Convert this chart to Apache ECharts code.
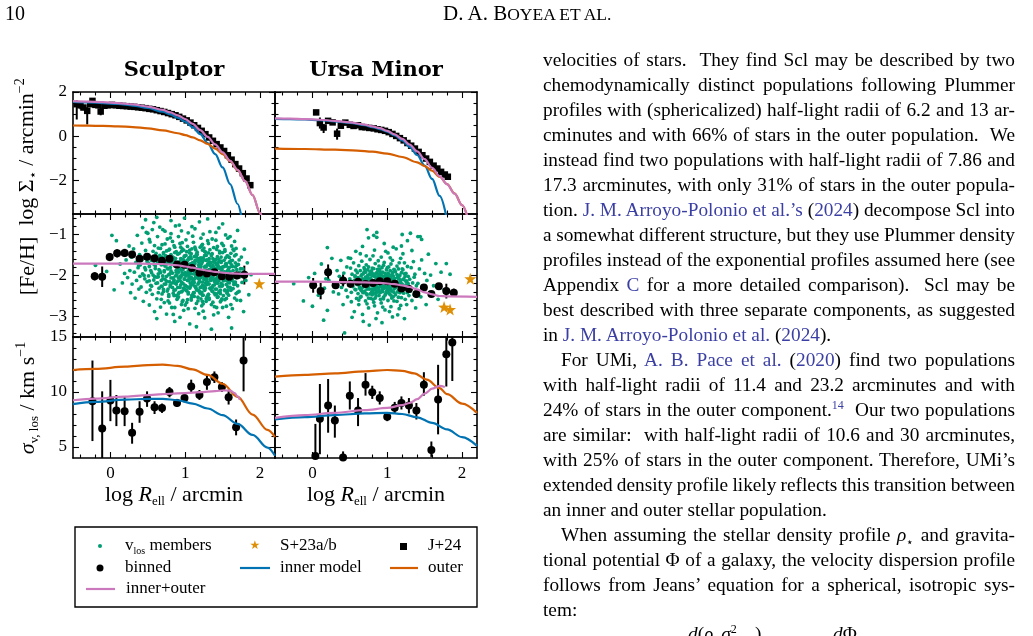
<!DOCTYPE html>
<html>
<head>
<meta charset="utf-8">
<title>Sculptor / Ursa Minor profiles</title>
<script src="https://cdn.jsdelivr.net/npm/echarts@6/dist/echarts.min.js"></script>
<style>
html,body{margin:0;padding:0;background:#fff;overflow:hidden;}
#chart{position:absolute;left:0;top:0;width:1033px;height:636px;}
.pg{position:absolute;z-index:2;font-family:'Liberation Serif','Times New Roman',serif;color:#000;}
#body{left:543px;top:47px;width:472px;font-size:19.3px;line-height:25px;}
#body .l{white-space:nowrap;height:25px;}
#body .j{text-align:justify;text-align-last:justify;word-spacing:-1.5px;}
#body .ind{text-indent:18px;}
.c{color:#3b3fa3;}
sup,sub{line-height:0;font-size:12px;}
.sc{font-size:17.5px;}
</style>
</head>
<body>
<div id="chart"></div>

<div class="pg" style="left:5px;top:1px;font-size:20px;line-height:25px;">10</div>
<div class="pg" style="left:443px;top:1px;font-size:21px;line-height:25px;">D. A. B<span class="sc">OYEA ET AL.</span></div>

<div class="pg" id="body">
<div class="l j">velocities of stars.&nbsp; They find Scl may be described by two</div>
<div class="l j">chemodynamically distinct populations following Plummer</div>
<div class="l j">profiles with (sphericalized) half-light radii of 6.2 and 13 ar-</div>
<div class="l j">cminutes and with 66% of stars in the outer population.&nbsp; We</div>
<div class="l j">instead find two populations with half-light radii of 7.86 and</div>
<div class="l j">17.3 arcminutes, with only 31% of stars in the outer popula-</div>
<div class="l j">tion. <span class="c">J. M. Arroyo-Polonio et al.’s</span> (<span class="c">2024</span>) decompose Scl into</div>
<div class="l j">a somewhat different structure, but they use Plummer density</div>
<div class="l j">profiles instead of the exponential profiles assumed here (see</div>
<div class="l j">Appendix <span class="c">C</span> for a more detailed comparison).&nbsp; Scl may be</div>
<div class="l j">best described with three separate components, as suggested</div>
<div class="l">in <span class="c">J. M. Arroyo-Polonio et al.</span> (<span class="c">2024</span>).</div>
<div class="l j ind">For UMi, <span class="c">A. B. Pace et al.</span> (<span class="c">2020</span>) find two populations</div>
<div class="l j">with half-light radii of 11.4 and 23.2 arcminutes and with</div>
<div class="l j">24% of stars in the outer component.<sup class="c">14</sup>&nbsp; Our two populations</div>
<div class="l j">are similar:&nbsp; with half-light radii of 10.6 and 30 arcminutes,</div>
<div class="l j">with 25% of stars in the outer component. Therefore, UMi’s</div>
<div class="l j">extended density profile likely reflects this transition between</div>
<div class="l">an inner and outer stellar population.</div>
<div class="l j ind">When assuming the stellar density profile <i>ρ</i><sub>⋆</sub> and gravita-</div>
<div class="l j">tional potential Φ of a galaxy, the velocity dispersion profile</div>
<div class="l j">follows from Jeans’ equation for a spherical, isotropic sys-</div>
<div class="l">tem:</div>
</div>
<div class="pg" style="left:688px;top:621px;font-size:19.3px;line-height:25px;white-space:nowrap;"><i>d</i>(<i>ρ</i><sub>⋆</sub><i>σ</i><sup>2</sup><sub style="margin-left:-7px">v, los</sub>)</div>
<div class="pg" style="left:833px;top:621px;font-size:19.3px;line-height:25px;"><i>d</i>Φ</div>

<script type="text/javascript">
// ---------- tick positions ----------
var xMajor = [0, 1, 2];
var xMinor = [-0.4, -0.2, 0.2, 0.4, 0.6, 0.8, 1.2, 1.4, 1.6, 1.8];
var denMajor = [-2, 0, 2];
var denMinor = [-3, -2.5, -1.5, -1, -0.5, 0.5, 1, 1.5];
var fehMajor = [-3, -2, -1];
var fehMinor = [-3.4, -3.2, -2.8, -2.6, -2.4, -2.2, -1.8, -1.6, -1.4, -1.2, -0.8, -0.6];
var sigMajor = [5, 10, 15];
var sigMinor = [6, 7, 8, 9, 11, 12, 13, 14];

// ---------- surface density (log Sigma) ----------
var sclDens = [[-0.45,1.45],[-0.40,1.40],[-0.36,1.30],[-0.31,1.15],[-0.27,1.45],[-0.24,1.60],[-0.20,1.42],[-0.16,1.40],[-0.13,1.12],[-0.08,1.38],[-0.03,1.40],[0.02,1.42],[0.07,1.40],[0.12,1.38],[0.17,1.37],[0.22,1.36],[0.27,1.34],[0.32,1.33],[0.37,1.31],[0.42,1.29],[0.47,1.27],[0.52,1.24],[0.57,1.22],[0.62,1.18],[0.67,1.14],[0.72,1.10],[0.77,1.05],[0.82,1.00],[0.87,0.95],[0.92,0.88],[0.97,0.80],[1.02,0.72],[1.07,0.62],[1.12,0.50],[1.17,0.38],[1.22,0.25],[1.27,0.10],[1.32,-0.05],[1.37,-0.20],[1.42,-0.35],[1.47,-0.50],[1.52,-0.66],[1.57,-0.85],[1.62,-1.05],[1.67,-1.25],[1.72,-1.45],[1.77,-1.66],[1.82,-1.90],[1.87,-2.20]];
var sclDensErr = [[-0.45,0.76,1.62],[-0.40,1.22,1.55],[-0.31,0.54,1.32],[-0.13,0.95,1.28]];
var umiDens = [[0.05,1.08],[0.10,0.60],[0.15,0.40],[0.21,0.70],[0.27,0.63],[0.33,0.12],[0.38,0.48],[0.44,0.62],[0.50,0.52],[0.55,0.47],[0.61,0.50],[0.66,0.42],[0.71,0.41],[0.76,0.38],[0.82,0.36],[0.87,0.32],[0.92,0.29],[0.97,0.25],[1.02,0.19],[1.07,0.11],[1.12,0.02],[1.17,-0.08],[1.22,-0.18],[1.27,-0.30],[1.32,-0.42],[1.37,-0.55],[1.42,-0.70],[1.47,-0.85],[1.52,-1.00],[1.57,-1.15],[1.62,-1.32],[1.67,-1.45],[1.72,-1.60],[1.77,-1.72],[1.81,-1.82]];
var umiDensErr = [[0.05,0.98,1.18],[0.10,0.35,0.85],[0.15,0.15,0.55],[0.33,-0.15,0.35]];

var sclDenInner = [[-0.5,1.55],[-0.3,1.53],[-0.1,1.50],[0.1,1.46],[0.3,1.39],[0.5,1.28],[0.7,1.11],[0.8,0.99],[0.9,0.84],[1.0,0.66],[1.1,0.42],[1.2,0.10],[1.3,-0.30],[1.4,-0.80],[1.5,-1.40],[1.6,-2.15],[1.7,-3.05],[1.75,-3.6]];
var sclDenOuter = [[-0.5,0.49],[-0.3,0.48],[-0.1,0.47],[0.1,0.45],[0.3,0.42],[0.5,0.36],[0.7,0.27],[0.9,0.14],[1.0,0.06],[1.1,-0.05],[1.2,-0.18],[1.3,-0.34],[1.4,-0.55],[1.5,-0.80],[1.6,-1.12],[1.7,-1.52],[1.8,-2.02],[1.9,-2.65],[2.0,-3.45],[2.02,-3.6]];
var sclDenTotal = [[-0.5,1.59],[-0.3,1.57],[-0.1,1.54],[0.1,1.50],[0.3,1.44],[0.5,1.34],[0.7,1.19],[0.8,1.08],[0.9,0.95],[1.0,0.78],[1.1,0.56],[1.2,0.28],[1.3,-0.02],[1.4,-0.36],[1.5,-0.72],[1.6,-1.10],[1.7,-1.51],[1.8,-2.02],[1.9,-2.65],[2.0,-3.45],[2.02,-3.6]];
var umiDenInner = [[-0.5,0.79],[-0.3,0.78],[-0.1,0.76],[0.1,0.73],[0.3,0.68],[0.5,0.61],[0.7,0.50],[0.8,0.42],[0.9,0.33],[1.0,0.21],[1.1,0.04],[1.2,-0.18],[1.3,-0.47],[1.4,-0.84],[1.5,-1.32],[1.6,-1.92],[1.7,-2.68],[1.79,-3.6]];
var umiDenOuter = [[-0.5,-0.55],[-0.1,-0.57],[0.3,-0.60],[0.6,-0.64],[0.8,-0.69],[1.0,-0.78],[1.2,-0.93],[1.4,-1.17],[1.5,-1.34],[1.6,-1.55],[1.7,-1.82],[1.8,-2.15],[1.9,-2.57],[2.0,-3.1],[2.07,-3.6]];
var umiDenTotal = [[-0.5,0.81],[-0.3,0.80],[-0.1,0.78],[0.1,0.75],[0.3,0.70],[0.5,0.63],[0.7,0.53],[0.8,0.45],[0.9,0.37],[1.0,0.25],[1.1,0.09],[1.2,-0.11],[1.3,-0.37],[1.4,-0.68],[1.5,-1.03],[1.6,-1.42],[1.7,-1.79],[1.8,-2.16],[1.9,-2.58],[2.0,-3.1],[2.07,-3.6]];

// ---------- metallicity: individual members ----------
var sclMembers = [[-0.2,-1.75],[-0.05,-1.9],[0.02,-1.02],[0.05,-2.35],[0.08,-1.15],
[0.13,-1.72],[0.16,-2.18],[0.18,-1.45],[0.19,-1.95],
[0.21,-1.62],[0.23,-2.05],[0.25,-1.28],[0.26,-1.88],[0.27,-2.42],[0.28,-1.55],[0.29,-2.21],
[0.31,-1.35],[0.32,-1.92],[0.33,-2.55],[0.34,-1.68],[0.35,-2.12],[0.36,-1.02],[0.37,-1.81],[0.38,-2.33],[0.39,-1.49],[0.395,-2.02],
[0.40,-1.74],[0.41,-2.28],[0.42,-1.21],[0.43,-1.96],[0.44,-2.63],[0.45,-1.57],[0.46,-2.08],[0.47,-1.39],[0.47,-1.86],[0.48,-2.41],[0.49,-1.66],[0.49,-2.15],[0.48,-0.95],
[0.50,-1.52],[0.51,-2.01],[0.52,-2.72],[0.52,-1.78],[0.53,-1.18],[0.54,-2.24],[0.55,-1.63],[0.55,-1.93],[0.56,-2.46],[0.57,-1.41],[0.58,-2.11],[0.58,-1.72],[0.59,-2.88],[0.59,-1.27],[0.56,-0.88],[0.53,-2.35],[0.57,-1.99],
[0.60,-1.83],[0.61,-2.19],[0.61,-1.46],[0.62,-2.57],[0.63,-1.69],[0.63,-1.05],[0.64,-2.03],[0.65,-1.58],[0.65,-2.31],[0.66,-1.88],[0.67,-2.77],[0.67,-1.34],[0.68,-2.12],[0.68,-1.74],[0.69,-2.45],[0.69,-1.55],[0.62,-3.05],[0.64,-1.96],[0.66,-0.82],[0.68,-2.26],
[0.70,-1.62],[0.70,-2.08],[0.71,-2.39],[0.71,-1.44],[0.72,-1.91],[0.72,-2.66],[0.73,-1.23],[0.73,-1.77],[0.74,-2.21],[0.74,-1.53],[0.75,-2.02],[0.75,-2.94],[0.76,-1.68],[0.76,-1.11],[0.77,-2.33],[0.77,-1.84],[0.78,-2.51],[0.78,-1.38],[0.79,-1.97],[0.79,-2.15],[0.73,-0.92],[0.75,-1.72],[0.77,-2.62],[0.79,-1.58],
[0.80,-1.81],[0.80,-2.27],[0.81,-1.49],[0.81,-2.06],[0.82,-2.78],[0.82,-1.65],[0.83,-1.17],[0.83,-1.94],[0.84,-2.43],[0.84,-1.56],[0.85,-2.13],[0.85,-1.73],[0.86,-3.12],[0.86,-1.31],[0.87,-2.01],[0.87,-2.35],[0.88,-1.87],[0.88,-1.42],[0.89,-2.58],[0.89,-1.99],[0.81,-0.98],[0.83,-2.18],[0.85,-2.49],[0.86,-1.62],[0.87,-0.79],[0.88,-2.21],[0.89,-1.76],[0.84,-2.95],
[0.90,-1.68],[0.90,-2.14],[0.91,-1.92],[0.91,-2.52],[0.92,-1.46],[0.92,-1.81],[0.93,-2.29],[0.93,-1.22],[0.94,-2.04],[0.94,-1.59],[0.95,-2.71],[0.95,-1.87],[0.96,-2.38],[0.96,-1.35],[0.97,-1.97],[0.97,-2.19],[0.98,-1.74],[0.98,-2.85],[0.99,-1.53],[0.99,-2.09],[0.91,-1.05],[0.92,-2.41],[0.93,-1.71],[0.94,-2.23],[0.95,-1.41],[0.96,-1.99],[0.97,-2.61],[0.98,-1.62],[0.99,-2.33],[0.93,-3.02],[0.95,-0.91],[0.97,-1.86],
[1.00,-1.78],[1.00,-2.24],[1.01,-1.51],[1.01,-2.01],[1.02,-2.66],[1.02,-1.66],[1.03,-1.29],[1.03,-2.12],[1.04,-1.89],[1.04,-2.45],[1.05,-1.57],[1.05,-2.06],[1.06,-1.38],[1.06,-2.31],[1.07,-1.95],[1.07,-1.72],[1.08,-2.55],[1.08,-1.47],[1.09,-2.18],[1.09,-1.84],[1.01,-1.13],[1.02,-2.37],[1.03,-1.63],[1.04,-2.81],[1.05,-1.99],[1.06,-1.76],[1.07,-2.27],[1.08,-1.59],[1.09,-2.49],[1.04,-0.96],[1.06,-3.18],[1.08,-2.08],[1.00,-1.93],[1.03,-2.59],
[1.10,-1.69],[1.10,-2.15],[1.11,-1.96],[1.11,-2.42],[1.12,-1.54],[1.12,-1.82],[1.13,-2.26],[1.13,-1.31],[1.14,-2.03],[1.14,-1.64],[1.15,-2.68],[1.15,-1.88],[1.16,-2.35],[1.16,-1.43],[1.17,-1.99],[1.17,-2.21],[1.18,-1.75],[1.18,-2.93],[1.19,-1.58],[1.19,-2.11],[1.11,-1.19],[1.12,-2.51],[1.13,-1.71],[1.14,-2.29],[1.15,-1.48],[1.16,-2.04],[1.17,-2.62],[1.18,-1.61],[1.19,-2.39],[1.13,-0.86],[1.15,-3.25],[1.17,-1.83],[1.10,-2.47],[1.12,-2.09],[1.14,-1.37],[1.18,-2.18],
[1.20,-1.83],[1.20,-2.29],[1.21,-1.57],[1.21,-2.05],[1.22,-2.74],[1.22,-1.71],[1.23,-1.24],[1.23,-2.16],[1.24,-1.93],[1.24,-2.48],[1.25,-1.62],[1.25,-2.09],[1.26,-1.41],[1.26,-2.36],[1.27,-1.98],[1.27,-1.77],[1.28,-2.57],[1.28,-1.51],[1.29,-2.22],[1.29,-1.88],[1.21,-1.09],[1.22,-2.41],[1.23,-1.66],[1.24,-2.87],[1.25,-2.02],[1.26,-1.79],[1.27,-2.31],[1.28,-1.63],[1.29,-2.52],[1.24,-0.99],[1.26,-3.03],[1.28,-2.12],[1.20,-1.96],[1.23,-2.63],[1.25,-1.33],[1.27,-2.19],
[1.30,-1.74],[1.30,-2.19],[1.31,-2.01],[1.31,-2.46],[1.32,-1.59],[1.32,-1.86],[1.33,-2.31],[1.33,-1.37],[1.34,-2.07],[1.34,-1.68],[1.35,-2.71],[1.35,-1.92],[1.36,-2.38],[1.36,-1.47],[1.37,-2.03],[1.37,-2.25],[1.38,-1.79],[1.38,-2.96],[1.39,-1.62],[1.39,-2.14],[1.31,-1.22],[1.32,-2.55],[1.33,-1.75],[1.34,-2.33],[1.35,-1.52],[1.36,-2.09],[1.37,-2.65],[1.38,-1.66],[1.39,-2.43],[1.33,-0.93],[1.35,-3.31],[1.37,-1.88],[1.30,-2.51],[1.34,-2.12],
[1.40,-1.87],[1.40,-2.33],[1.41,-1.61],[1.41,-2.09],[1.42,-2.78],[1.42,-1.74],[1.43,-1.29],[1.43,-2.19],[1.44,-1.96],[1.44,-2.52],[1.45,-1.66],[1.45,-2.13],[1.46,-1.45],[1.46,-2.41],[1.47,-2.02],[1.47,-1.81],[1.48,-2.61],[1.48,-1.55],[1.49,-2.26],[1.49,-1.92],[1.41,-1.14],[1.42,-2.45],[1.43,-1.71],[1.44,-2.91],[1.45,-2.06],[1.46,-1.83],[1.47,-2.36],[1.48,-1.68],[1.49,-2.57],[1.45,-0.84],
[1.50,-1.79],[1.50,-2.23],[1.51,-2.04],[1.51,-2.49],[1.52,-1.63],[1.52,-1.91],[1.53,-2.35],[1.53,-1.41],[1.54,-2.11],[1.54,-1.72],[1.55,-2.75],[1.55,-1.96],[1.56,-2.42],[1.56,-1.52],[1.57,-2.07],[1.57,-2.28],[1.58,-1.84],[1.58,-3.02],[1.59,-1.67],[1.59,-2.18],[1.51,-1.27],[1.53,-2.59],[1.55,-1.77],[1.57,-2.37],[1.59,-1.56],[1.54,-1.01],
[1.60,-1.91],[1.61,-2.36],[1.61,-1.64],[1.62,-2.12],[1.63,-2.81],[1.63,-1.78],[1.64,-1.36],[1.65,-2.22],[1.65,-1.99],[1.66,-2.55],[1.67,-1.69],[1.67,-2.16],[1.68,-1.49],[1.68,-2.44],[1.69,-2.05],[1.69,-1.86],[1.62,-3.28],[1.66,-1.17],
[1.70,-2.04],[1.71,-1.73],[1.72,-2.39],[1.73,-1.92],[1.74,-2.61],[1.75,-1.55],[1.76,-2.17],[1.77,-1.84],[1.78,-2.88],[1.79,-1.36],
[1.81,-2.12],[1.83,-1.69],[1.85,-2.47],[1.88,-1.98],
[0.43,-0.83],[0.47,-0.64],[0.5,-0.97],[0.58,-0.71],[0.62,-0.58],[0.7,-0.88],[0.81,-0.66],[0.92,-0.77],[0.99,-0.6],[1.09,-0.81],[1.19,-0.69],[1.3,-0.62],[1.41,-0.95],[1.5,-0.74],[1.6,-1.05],[1.7,-0.9]];
// dense core of the Sculptor cloud
var sclCore = [[0.64,-1.33],[0.71,-1.47],[0.79,-1.36],[0.86,-1.44],[0.94,-1.31],[1.02,-1.42],[1.09,-1.35],[1.16,-1.49],[1.23,-1.38],[1.31,-1.45],[1.38,-1.32],[1.46,-1.41],[1.53,-1.37],[1.61,-1.46],[1.68,-1.34],[0.75,-1.40],[0.9,-1.48],[1.06,-1.45],[1.2,-1.31],[1.35,-1.49],[1.5,-1.44],[1.65,-1.39],[0.98,-1.38],[1.27,-1.43],[1.42,-1.36],
[0.61,-1.56],[0.68,-1.64],[0.74,-1.52],[0.8,-1.68],[0.87,-1.58],[0.93,-1.66],[0.99,-1.53],[1.04,-1.61],[1.1,-1.69],[1.15,-1.55],[1.21,-1.63],[1.26,-1.51],[1.32,-1.67],[1.37,-1.59],[1.43,-1.54],[1.48,-1.65],[1.54,-1.57],[1.6,-1.69],[1.66,-1.52],[1.72,-1.62],[0.66,-1.51],[0.77,-1.61],[0.89,-1.69],[0.96,-1.6],[1.07,-1.54],[1.13,-1.64],[1.24,-1.57],[1.29,-1.62],[1.4,-1.68],[1.45,-1.6],[1.57,-1.53],[1.63,-1.63],[1.18,-1.67],[1.01,-1.68],[0.83,-1.55],
[0.6,-1.77],[0.65,-1.86],[0.7,-1.73],[0.76,-1.82],[0.81,-1.89],[0.86,-1.76],[0.92,-1.84],[0.97,-1.71],[1.02,-1.8],[1.07,-1.88],[1.11,-1.74],[1.16,-1.83],[1.21,-1.78],[1.25,-1.87],[1.3,-1.72],[1.35,-1.81],[1.39,-1.89],[1.44,-1.76],[1.49,-1.85],[1.55,-1.71],[1.59,-1.8],[1.64,-1.88],[1.69,-1.75],[1.74,-1.83],[0.72,-1.88],[0.83,-1.73],[0.95,-1.79],[1.04,-1.73],[1.14,-1.9],[1.19,-1.72],[1.28,-1.79],[1.33,-1.88],[1.42,-1.82],[1.52,-1.78],[1.57,-1.87],[1.67,-1.79],[0.89,-1.87],[1.09,-1.81],[1.37,-1.74],[1.62,-1.74],
[0.62,-2.04],[0.67,-1.93],[0.73,-2.09],[0.78,-1.98],[0.84,-2.06],[0.88,-1.92],[0.94,-2.01],[0.99,-2.08],[1.03,-1.95],[1.08,-2.04],[1.13,-1.91],[1.17,-2.07],[1.22,-1.99],[1.26,-2.05],[1.31,-1.93],[1.36,-2.02],[1.4,-2.09],[1.45,-1.96],[1.5,-2.05],[1.54,-1.92],[1.58,-2.01],[1.63,-2.08],[1.68,-1.95],[1.73,-2.03],[0.7,-2.01],[0.81,-1.93],[0.91,-2.06],[1.01,-2.0],[1.11,-2.09],[1.2,-1.94],[1.29,-2.09],[1.34,-1.97],[1.43,-2.03],[1.48,-1.91],[1.56,-2.07],[1.66,-2.02],[0.96,-1.94],[1.15,-2.0],[1.24,-1.92],[1.38,-1.95],
[0.63,-2.18],[0.69,-2.27],[0.75,-2.14],[0.8,-2.23],[0.85,-2.11],[0.9,-2.29],[0.95,-2.16],[1.0,-2.25],[1.05,-2.13],[1.1,-2.22],[1.14,-2.28],[1.19,-2.15],[1.23,-2.24],[1.28,-2.12],[1.32,-2.21],[1.36,-2.29],[1.41,-2.17],[1.46,-2.26],[1.51,-2.13],[1.55,-2.22],[1.6,-2.29],[1.65,-2.16],[1.7,-2.25],[0.72,-2.21],[0.83,-2.29],[0.93,-2.12],[1.03,-2.28],[1.12,-2.17],[1.21,-2.29],[1.3,-2.16],[1.39,-2.23],[1.48,-2.19],[1.57,-2.14],[1.67,-2.21],[0.87,-2.19],[1.07,-2.19],[1.26,-2.27],[1.44,-2.12],
[0.64,-2.42],[0.71,-2.34],[0.78,-2.47],[0.85,-2.36],[0.91,-2.44],[0.98,-2.31],[1.04,-2.41],[1.09,-2.49],[1.15,-2.35],[1.2,-2.43],[1.25,-2.32],[1.31,-2.46],[1.36,-2.38],[1.42,-2.33],[1.47,-2.44],[1.53,-2.37],[1.58,-2.48],[1.64,-2.32],[1.7,-2.41],[0.76,-2.38],[0.88,-2.49],[1.01,-2.36],[1.12,-2.42],[1.23,-2.48],[1.34,-2.31],[1.45,-2.4],[1.56,-2.43],[0.95,-2.4],[1.18,-2.37],[1.4,-2.47],
[0.68,-2.58],[0.79,-2.67],[0.9,-2.55],[1.0,-2.72],[1.08,-2.6],[1.17,-2.53],[1.24,-2.69],[1.32,-2.58],[1.39,-2.76],[1.47,-2.64],[1.55,-2.56],[1.61,-2.71],[1.69,-2.6],[0.86,-2.78],[1.13,-2.8],[1.28,-2.63],[1.43,-2.53],[1.5,-2.78],[0.96,-2.64],[1.21,-2.57],
[0.52,-1.12],[0.69,-1.25],[0.8,-1.08],[0.96,-1.2],[1.1,-1.04],[1.22,-1.27],[1.36,-1.11],[1.49,-1.22],[1.62,-1.28],[0.85,-1.27],[1.3,-1.15],[1.57,-1.09],
[0.42,-1.62],[0.46,-1.81],[0.51,-1.7],[0.54,-1.88],[0.57,-1.55],[0.45,-2.0],[0.52,-2.13],[0.38,-1.75],[0.55,-2.26],[0.59,-2.03]];

var umiMembers = [[-0.25,-2.2],[-0.12,-2.62],[-0.05,-2.05],[0.03,-1.95],[0.08,-2.48],[0.12,-1.72],[0.16,-2.31],[0.2,-2.85],[0.22,-2.12],[0.26,-1.58],[0.28,-2.4],[0.18,-2.08],[0.0,-2.75],[0.15,-3.09],[0.2,-1.32],[0.43,-3.4],
[0.31,-2.18],[0.33,-1.88],[0.35,-2.45],[0.36,-2.02],[0.38,-1.63],[0.39,-2.29],[0.41,-2.71],[0.42,-1.94],[0.44,-2.13],[0.46,-1.79],[0.47,-2.52],[0.48,-1.57],[0.49,-2.24],[0.45,-2.36],
[0.50,-2.08],[0.51,-1.82],[0.52,-2.41],[0.52,-2.64],[0.53,-1.97],[0.54,-2.27],[0.55,-1.69],[0.55,-2.15],[0.56,-2.88],[0.57,-2.01],[0.57,-2.34],[0.58,-1.87],[0.58,-1.41],[0.59,-2.21],[0.59,-2.56],[0.53,-3.02],[0.56,-2.12],[0.51,-1.58],
[0.60,-2.17],[0.60,-1.93],[0.61,-2.44],[0.61,-2.05],[0.62,-1.76],[0.62,-2.71],[0.63,-2.28],[0.63,-2.12],[0.64,-1.88],[0.64,-2.53],[0.65,-2.01],[0.65,-2.36],[0.66,-1.65],[0.66,-2.19],[0.67,-2.95],[0.67,-2.08],[0.68,-1.96],[0.68,-2.42],[0.69,-2.24],[0.69,-1.81],[0.62,-2.6],[0.64,-1.47],[0.66,-2.31],[0.68,-3.12],[0.61,-2.14],[0.67,-1.29],
[0.70,-2.11],[0.70,-2.38],[0.71,-1.92],[0.71,-2.62],[0.72,-2.22],[0.72,-1.74],[0.73,-2.04],[0.73,-2.47],[0.74,-1.86],[0.74,-2.29],[0.75,-2.15],[0.75,-2.79],[0.76,-1.98],[0.76,-2.33],[0.77,-1.61],[0.77,-2.19],[0.78,-2.56],[0.78,-2.07],[0.79,-1.89],[0.79,-2.41],[0.71,-2.26],[0.72,-1.52],[0.73,-2.69],[0.74,-2.09],[0.75,-1.79],[0.76,-3.21],[0.77,-2.45],[0.78,-1.98],[0.79,-2.17],[0.75,-1.08],
[0.80,-2.14],[0.80,-1.95],[0.81,-2.36],[0.81,-2.58],[0.82,-1.83],[0.82,-2.21],[0.83,-2.02],[0.83,-2.74],[0.84,-2.29],[0.84,-1.71],[0.85,-2.12],[0.85,-2.43],[0.86,-1.93],[0.86,-2.26],[0.87,-2.05],[0.87,-2.91],[0.88,-1.64],[0.88,-2.18],[0.89,-2.49],[0.89,-2.01],[0.81,-1.52],[0.82,-2.65],[0.83,-2.24],[0.84,-1.96],[0.85,-3.05],[0.86,-2.39],[0.87,-1.85],[0.88,-2.31],[0.89,-1.77],[0.84,-2.55],[0.86,-0.95],[0.88,-2.09],[0.8,-2.47],[0.83,-1.38],
[0.90,-2.19],[0.90,-2.42],[0.91,-1.97],[0.91,-2.27],[0.92,-2.08],[0.92,-2.67],[0.93,-1.81],[0.93,-2.35],[0.94,-2.16],[0.94,-1.92],[0.95,-2.53],[0.95,-2.03],[0.96,-2.31],[0.96,-1.68],[0.97,-2.22],[0.97,-2.84],[0.98,-1.99],[0.98,-2.44],[0.99,-2.11],[0.99,-1.86],[0.91,-2.58],[0.92,-1.55],[0.93,-3.15],[0.94,-2.39],[0.95,-1.75],[0.96,-2.06],[0.97,-2.48],[0.98,-1.41],[0.99,-2.29],[0.94,-2.77],[0.96,-1.22],[0.98,-2.18],[0.9,-1.9],[0.95,-2.25],
[1.00,-2.13],[1.00,-2.36],[1.01,-1.94],[1.01,-2.61],[1.02,-2.24],[1.02,-1.79],[1.03,-2.05],[1.03,-2.45],[1.04,-1.88],[1.04,-2.29],[1.05,-2.17],[1.05,-2.76],[1.06,-1.99],[1.06,-2.38],[1.07,-1.63],[1.07,-2.21],[1.08,-2.52],[1.08,-2.01],[1.09,-1.85],[1.09,-2.33],[1.01,-1.45],[1.03,-2.88],[1.05,-1.72],[1.06,-2.11],[1.07,-3.01],[1.08,-1.31],[1.09,-2.62],[1.02,-2.42],[1.04,-1.57],[1.06,-2.55],
[1.10,-2.16],[1.11,-1.91],[1.11,-2.47],[1.12,-2.26],[1.13,-1.77],[1.13,-2.63],[1.14,-2.04],[1.15,-2.37],[1.15,-1.84],[1.16,-2.19],[1.16,-2.81],[1.17,-1.99],[1.17,-2.31],[1.18,-1.58],[1.18,-2.11],[1.19,-2.54],[1.19,-1.93],[1.12,-1.35],[1.14,-2.96],[1.16,-1.69],[1.17,-2.42],[1.18,-2.73],[1.13,-2.15],[1.19,-1.28],
[1.20,-2.21],[1.21,-1.86],[1.22,-2.43],[1.22,-2.08],[1.23,-1.69],[1.24,-2.58],[1.24,-2.29],[1.25,-1.95],[1.26,-2.71],[1.26,-2.14],[1.27,-1.78],[1.28,-2.36],[1.28,-2.02],[1.29,-2.49],[1.21,-1.47],[1.23,-3.05],[1.25,-2.23],[1.27,-1.15],
[1.30,-2.09],[1.31,-2.38],[1.32,-1.81],[1.33,-2.61],[1.34,-2.18],[1.35,-1.66],[1.36,-2.47],[1.37,-1.97],[1.38,-2.79],[1.39,-2.25],[1.33,-1.39],[1.36,-2.04],[1.31,-0.97],
[1.41,-2.19],[1.43,-1.84],[1.45,-2.52],[1.46,-1.62],[1.48,-2.33],[1.5,-1.95],[1.52,-2.71],[1.53,-2.12],[1.55,-1.48],[1.57,-2.41],[1.58,-1.99],[1.44,-1.05],
[1.62,-2.25],[1.65,-1.71],[1.68,-2.58],[1.72,-1.92],[1.76,-2.35],[1.79,-1.71],[1.84,-1.97],
[0.73,-0.88],[0.82,-1.02],[0.86,-1.07],[1.41,-1.05],[1.46,-1.12],[1.2,-1.0]];
// dense core of the Ursa Minor cloud
var umiCore = [[0.57,-2.03],[0.63,-2.31],[0.68,-2.11],[0.72,-2.44],[0.77,-1.91],[0.81,-2.25],[0.85,-2.05],[0.89,-2.37],[0.93,-2.13],[0.97,-1.95],[1.01,-2.28],[1.05,-2.06],[1.09,-2.41],[1.13,-1.98],[1.17,-2.23],[1.22,-2.1],[1.26,-2.33],[0.6,-2.22],[0.66,-1.98],[0.7,-2.27],[0.74,-2.0],[0.79,-2.33],[0.83,-2.13],[0.87,-1.97],[0.91,-2.24],[0.95,-2.09],[0.99,-2.39],[1.03,-2.19],[1.07,-1.93],[1.11,-2.3],[1.15,-2.08],[1.2,-2.36],[1.24,-2.02],[1.28,-2.2],
[0.62,-2.1],[0.67,-2.4],[0.71,-2.04],[0.76,-2.24],[0.8,-2.0],[0.84,-2.35],[0.88,-2.12],[0.92,-1.99],[0.96,-2.2],[1.0,-2.04],[1.04,-2.34],[1.08,-2.12],[1.12,-2.22],[1.16,-2.02],[1.21,-2.26],[1.25,-2.14],
[0.58,-2.35],[0.64,-2.16],[0.69,-1.92],[0.73,-2.33],[0.78,-2.12],[0.82,-2.43],[0.86,-2.21],[0.9,-2.07],[0.94,-2.32],[0.98,-2.15],[1.02,-1.97],[1.06,-2.26],[1.1,-2.07],[1.14,-2.4],[1.18,-2.17],[1.23,-1.96],[1.27,-2.42],
[0.65,-2.51],[0.75,-2.55],[0.85,-2.5],[0.95,-2.57],[1.05,-2.48],[1.15,-2.53],[0.7,-1.85],[0.8,-1.82],[0.9,-1.86],[1.0,-1.81],[1.1,-1.87],[1.2,-1.84],
[0.83,-2.29],[0.87,-2.16],[0.91,-2.41],[0.95,-2.17],[0.99,-2.02],[1.03,-2.31],[0.79,-2.19],[0.75,-2.08],[0.71,-2.17],[0.93,-2.27],[0.97,-2.12],[1.01,-2.17],[0.85,-2.27],[0.89,-2.03],[1.07,-2.16]];

// binned: x, mean, lower, upper
var sclFehBinned = [[-0.21,-2.02,-2.12,-1.92],[-0.11,-2.03,-2.28,-1.78],[-0.01,-1.55,-1.65,-1.45],[0.09,-1.46,-1.56,-1.36],[0.19,-1.45,-1.55,-1.35],[0.29,-1.49,-1.58,-1.40],[0.39,-1.59,-1.66,-1.52],[0.49,-1.54,-1.59,-1.49],[0.59,-1.58,-1.62,-1.54],[0.69,-1.64,-1.68,-1.60],[0.79,-1.59,-1.63,-1.55],[0.89,-1.73,-1.77,-1.69],[0.99,-1.74,-1.77,-1.71],[1.09,-1.82,-1.85,-1.79],[1.19,-1.93,-1.96,-1.90],[1.29,-1.95,-1.98,-1.92],[1.39,-1.92,-1.95,-1.89],[1.49,-2.02,-2.05,-1.99],[1.59,-2.03,-2.07,-1.99],[1.69,-2.00,-2.05,-1.95],[1.79,-1.98,-2.22,-1.76]];
var umiFehBinned = [[0.01,-2.24,-2.42,-2.06],[0.11,-2.38,-2.58,-2.18],[0.21,-1.92,-2.11,-1.73],[0.31,-2.24,-2.32,-2.16],[0.41,-2.12,-2.27,-1.97],[0.51,-2.20,-2.30,-2.10],[0.61,-2.15,-2.22,-2.08],[0.71,-2.21,-2.27,-2.15],[0.81,-2.18,-2.23,-2.13],[0.90,-2.14,-2.19,-2.09],[1.00,-2.14,-2.19,-2.09],[1.10,-2.20,-2.25,-2.15],[1.19,-2.32,-2.37,-2.27],[1.29,-2.33,-2.38,-2.28],[1.39,-2.45,-2.55,-2.35],[1.49,-2.29,-2.36,-2.22],[1.59,-2.45,-2.52,-2.38],[1.69,-2.26,-2.30,-2.22],[1.79,-2.38,-2.56,-2.20],[1.89,-2.42,-2.52,-2.32]];
var sclFehS23 = [[1.99,-2.2]];
var umiFehS23 = [[2.11,-2.08],[1.76,-2.77],[1.84,-2.83]];
var sclFehTotal = [[-0.5,-1.71],[0.0,-1.71],[0.4,-1.71],[0.7,-1.72],[0.9,-1.75],[1.0,-1.78],[1.1,-1.81],[1.2,-1.85],[1.3,-1.88],[1.4,-1.91],[1.5,-1.93],[1.6,-1.95],[1.8,-1.96],[2.2,-1.96]];
var umiFehTotal = [[-0.5,-2.15],[0.0,-2.15],[0.5,-2.16],[0.9,-2.18],[1.1,-2.21],[1.2,-2.24],[1.3,-2.28],[1.4,-2.34],[1.5,-2.41],[1.6,-2.46],[1.7,-2.50],[1.8,-2.51],[2.2,-2.52]];

// ---------- velocity dispersion ----------
var sclSigBinned = [[-0.24,9.16,5.54,12.86],[-0.11,6.69,3.3,10.06],[0.00,9.22,7.35,11.1],[0.08,8.32,6.9,9.73],[0.19,8.25,6.9,9.6],[0.29,6.30,5.3,7.2],[0.39,8.2,7.2,9.16],[0.49,9.4,8.65,10.06],[0.59,8.62,8.0,9.16],[0.69,8.55,8.1,8.95],[0.79,10.0,9.52,10.45],[0.89,9.0,8.65,9.37],[0.99,9.46,9.06,9.86],[1.08,10.51,9.9,11.12],[1.19,9.73,9.28,10.18],[1.29,10.9,10.2,11.57],[1.39,11.33,10.82,11.87],[1.49,10.45,10.0,10.9],[1.58,9.52,8.86,10.2],[1.68,6.8,6.06,7.5],[1.78,12.86,10.06,15.5]];
var umiSigBinned = [[0.04,4.19,3.5,7.1],[0.10,7.56,4.34,10.73],[0.21,8.77,6.3,11.18],[0.30,7.41,5.85,8.77],[0.41,4.05,3.5,4.6],[0.50,9.67,8.41,10.96],[0.61,8.32,6.9,9.45],[0.71,10.66,9.67,11.72],[0.80,9.97,9.37,10.57],[0.90,9.46,8.86,10.06],[1.00,7.74,7.35,8.16],[1.10,8.56,8.05,9.1],[1.19,9.0,8.41,9.6],[1.29,8.77,8.05,9.45],[1.39,8.32,7.5,9.0],[1.49,10.66,9.67,11.8],[1.59,4.73,4.1,5.5],[1.68,9.31,6.15,12.47],[1.79,13.43,10.5,15.5],[1.87,14.49,11.0,15.5]];
var sclSigInner = [[-0.5,8.9],[-0.2,9.1],[0.2,9.3],[0.5,9.38],[0.7,9.38],[0.9,9.25],[1.1,8.95],[1.3,8.5],[1.5,7.9],[1.7,7.1],[1.9,6.1],[2.1,4.95],[2.2,4.2]];
var sclSigOuter = [[-0.5,12.0],[-0.2,12.1],[0.2,12.3],[0.5,12.45],[0.7,12.48],[0.9,12.38],[1.1,12.05],[1.3,11.55],[1.5,10.75],[1.7,9.55],[1.9,7.95],[2.1,6.55],[2.2,5.9]];
var sclSigTotal = [[-0.5,9.25],[-0.2,9.4],[0.2,9.58],[0.5,9.72],[0.8,9.84],[1.0,9.9],[1.2,9.98],[1.4,10.08],[1.52,10.15],[1.6,10.12],[1.66,9.9],[1.70,9.6],[1.73,9.3]];
var umiSigInner = [[-0.5,7.5],[-0.1,7.72],[0.3,7.9],[0.7,8.05],[1.0,8.1],[1.2,8.0],[1.4,7.7],[1.6,7.2],[1.8,6.6],[2.0,5.9],[2.2,5.1]];
var umiSigOuter = [[-0.5,11.4],[-0.1,11.55],[0.3,11.7],[0.7,11.88],[1.0,12.0],[1.2,11.92],[1.36,11.7],[1.53,11.12],[1.7,10.35],[1.8,9.8],[2.0,8.95],[2.2,8.1]];
var umiSigTotal = [[-0.5,7.65],[-0.1,7.9],[0.3,8.1],[0.7,8.35],[1.0,8.55],[1.2,8.8],[1.3,9.0],[1.4,9.35],[1.5,9.85],[1.6,10.3],[1.7,10.55],[1.77,10.45]];

// ---------- styles ----------
var FONT = "'Liberation Serif', 'Times New Roman', serif";
var GREEN = '#029E73', GOLD = '#DE8F05', BLUE = '#0173B2', ORANGE = '#D55E00', PINK = '#CC78BC';
var STAR = 'path://M0,-10L2.35,-3.24L9.51,-3.09L3.8,1.24L5.88,8.09L0,4L-5.88,8.09L-3.8,1.24L-9.51,-3.09L-2.35,-3.24Z';

var colLeft = [73, 275], colW = 202;
var rowTop = [92, 214, 337], rowH = [122, 123, 121];
var yRange = [[-3.5, 2], [-3.5, -0.5], [4, 15]];
var yMaj = [denMajor, fehMajor, sigMajor];
var yMin = [denMinor, fehMinor, sigMinor];

function fmt(v) { return v < 0 ? '\u2212' + (-v) : String(v); }

function xAx(g, pos, vals, len, lab, line) {
	return {type: 'value', gridIndex: g, position: pos, min: -0.5, max: 2.2,
		axisLine: {show: line, onZero: false, lineStyle: {color: '#000', width: 1.6}},
		axisTick: {show: true, inside: true, length: len, customValues: vals, lineStyle: {color: '#000', width: 1.1}},
		axisLabel: {show: lab, customValues: vals, margin: 7, color: '#000', fontFamily: FONT, fontSize: 17, formatter: fmt},
		splitLine: {show: false}, axisPointer: {show: false}};
}
function yAx(g, pos, vals, len, lab, line, rng) {
	return {type: 'value', gridIndex: g, position: pos, min: rng[0], max: rng[1],
		axisLine: {show: line, onZero: false, lineStyle: {color: '#000', width: 1.6}},
		axisTick: {show: true, inside: true, length: len, customValues: vals, lineStyle: {color: '#000', width: 1.1}},
		axisLabel: {show: lab, customValues: vals, margin: 6, color: '#000', fontFamily: FONT, fontSize: 17, formatter: fmt},
		splitLine: {show: false}, axisPointer: {show: false}};
}

var grids = [], xAxes = [], yAxes = [], series = [], idx = {};
for (var r = 0; r < 3; r++) {
	for (var c = 0; c < 2; c++) {
		var g = grids.length;
		grids.push({left: colLeft[c], top: rowTop[r], width: colW, height: rowH[r], containLabel: false, outerBoundsMode: 'none', show: false});
		var xi = xAxes.length;
		xAxes.push(xAx(g, 'bottom', xMajor, 6, r === 2, true));
		xAxes.push(xAx(g, 'bottom', xMinor, 3.5, false, false));
		xAxes.push(xAx(g, 'top', xMajor, 6, false, true));
		xAxes.push(xAx(g, 'top', xMinor, 3.5, false, false));
		var yi = yAxes.length;
		yAxes.push(yAx(g, 'left', yMaj[r], 6, c === 0, true, yRange[r]));
		yAxes.push(yAx(g, 'left', yMin[r], 3.5, false, false, yRange[r]));
		yAxes.push(yAx(g, 'right', yMaj[r], 6, false, true, yRange[r]));
		yAxes.push(yAx(g, 'right', yMin[r], 3.5, false, false, yRange[r]));
		idx[r + '_' + c] = [xi, yi];
	}
}

function put(r, c, s) {
	s.xAxisIndex = idx[r + '_' + c][0];
	s.yAxisIndex = idx[r + '_' + c][1];
	s.silent = true;
	series.push(s);
}
function curve(r, c, data, color) {
	put(r, c, {type: 'line', data: data, showSymbol: false, symbol: 'none', smooth: 0.35, smoothMonotone: 'x', clip: true,
		lineStyle: {color: color, width: 2.2}});
}
function dots(r, c, data, sym, size, color) {
	put(r, c, {type: 'scatter', data: data, symbol: sym, symbolSize: size, clip: true,
		encode: {x: 0, y: 1}, itemStyle: {color: color, opacity: 1}});
}
// error bars: lower / upper in columns lo, hi
function bars(r, c, data, lo, hi) {
	put(r, c, {type: 'custom', data: data, clip: true, encode: {x: 0, y: [lo, hi]},
		renderItem: function (params, api) {
			var a = api.coord([api.value(0), api.value(lo)]);
			var b = api.coord([api.value(0), api.value(hi)]);
			return {type: 'line', shape: {x1: a[0], y1: a[1], x2: b[0], y2: b[1]},
				style: {stroke: '#000', lineWidth: 2}};
		}});
}

// row 0: surface density
bars(0, 0, sclDensErr, 1, 2);
dots(0, 0, sclDens, 'rect', 6.5, '#000');
curve(0, 0, sclDenInner, BLUE);
curve(0, 0, sclDenOuter, ORANGE);
curve(0, 0, sclDenTotal, PINK);
bars(0, 1, umiDensErr, 1, 2);
dots(0, 1, umiDens, 'rect', 6.5, '#000');
curve(0, 1, umiDenInner, BLUE);
curve(0, 1, umiDenOuter, ORANGE);
curve(0, 1, umiDenTotal, PINK);

// row 1: metallicity
dots(1, 0, sclMembers, 'circle', 3.8, GREEN);
dots(1, 0, sclCore, 'circle', 3.8, GREEN);
curve(1, 0, sclFehTotal, PINK);
bars(1, 0, sclFehBinned, 2, 3);
dots(1, 0, sclFehBinned, 'circle', 8, '#000');
dots(1, 0, sclFehS23, STAR, 12, GOLD);
dots(1, 1, umiMembers, 'circle', 3.8, GREEN);
dots(1, 1, umiCore, 'circle', 3.8, GREEN);
curve(1, 1, umiFehTotal, PINK);
bars(1, 1, umiFehBinned, 2, 3);
dots(1, 1, umiFehBinned, 'circle', 8, '#000');
dots(1, 1, umiFehS23, STAR, 12, GOLD);

// row 2: velocity dispersion
curve(2, 0, sclSigInner, BLUE);
curve(2, 0, sclSigOuter, ORANGE);
curve(2, 0, sclSigTotal, PINK);
bars(2, 0, sclSigBinned, 2, 3);
dots(2, 0, sclSigBinned, 'circle', 8, '#000');
curve(2, 1, umiSigInner, BLUE);
curve(2, 1, umiSigOuter, ORANGE);
curve(2, 1, umiSigTotal, PINK);
bars(2, 1, umiSigBinned, 2, 3);
dots(2, 1, umiSigBinned, 'circle', 8, '#000');

// ---------- titles, axis names, legend ----------
var rich = {
	a: {fontFamily: FONT, fontSize: 22, lineHeight: 27, fill: '#000'},
	i: {fontFamily: FONT, fontSize: 22, fontStyle: 'italic', lineHeight: 27, fill: '#000'},
	s: {fontFamily: FONT, fontSize: 13, lineHeight: 13, verticalAlign: 'bottom', fill: '#000'},
	p: {fontFamily: FONT, fontSize: 14, lineHeight: 14, verticalAlign: 'top', fill: '#000'},
	la: {fontFamily: FONT, fontSize: 17, lineHeight: 20, fill: '#000'},
	ls: {fontFamily: FONT, fontSize: 10, lineHeight: 10, verticalAlign: 'bottom', fill: '#000'}
};
function label(x, y, text, rot) {
	return {type: 'text', x: x, y: y, rotation: rot || 0, z: 50,
		style: {text: text, rich: rich, align: 'center', verticalAlign: 'middle'}};
}
function ltext(x, y, text) {
	return {type: 'text', x: x, y: y, z: 51, style: {text: text, rich: rich, align: 'left', verticalAlign: 'middle'}};
}
var graphics = [
	{type: 'text', x: 174, y: 71, z: 50, style: {text: 'Sculptor', fontFamily: "'DejaVu Serif', serif", fontWeight: 'bold', fontSize: 21, fill: '#000', align: 'center', verticalAlign: 'middle'}},
	{type: 'text', x: 376, y: 71, z: 50, style: {text: 'Ursa Minor', fontFamily: "'DejaVu Serif', serif", fontWeight: 'bold', fontSize: 21, fill: '#000', align: 'center', verticalAlign: 'middle'}},
	label(27, 152, '{a|log Σ}{s|⋆}{a| / arcmin}{p|\u22122}', Math.PI / 2),
	label(28, 266, '{a|[Fe/H]}', Math.PI / 2),
	label(28, 398, '{i|σ}{s|v, los}{a| / km s}{p|\u22121}', Math.PI / 2),
	label(174, 495, '{a|log }{i|R}{s|ell}{a| / arcmin}'),
	label(376, 495, '{a|log }{i|R}{s|ell}{a| / arcmin}'),
	// legend
	{type: 'rect', z: 50, shape: {x: 75, y: 527, width: 402, height: 80}, style: {fill: '#fff', stroke: '#000', lineWidth: 1.4}},
	{type: 'circle', z: 51, shape: {cx: 100, cy: 546, r: 2}, style: {fill: GREEN}},
	ltext(125, 546, '{la|v}{ls|los}{la| members}'),
	{type: 'text', z: 51, x: 255, y: 546, style: {text: '★', fontSize: 12, fontFamily: "'DejaVu Sans'", fill: GOLD, align: 'center', verticalAlign: 'middle'}},
	ltext(280, 546, '{la|S+23a/b}'),
	{type: 'rect', z: 51, shape: {x: 400, y: 543, width: 7, height: 7}, style: {fill: '#000'}},
	ltext(428, 546, '{la|J+24}'),
	{type: 'circle', z: 51, shape: {cx: 100, cy: 568, r: 3.5}, style: {fill: '#000'}},
	ltext(125, 568, '{la|binned}'),
	{type: 'line', z: 51, shape: {x1: 240, y1: 568, x2: 270, y2: 568}, style: {stroke: BLUE, lineWidth: 2.2}},
	ltext(280, 568, '{la|inner model}'),
	{type: 'line', z: 51, shape: {x1: 390, y1: 568, x2: 418, y2: 568}, style: {stroke: ORANGE, lineWidth: 2.2}},
	ltext(428, 568, '{la|outer}'),
	{type: 'line', z: 51, shape: {x1: 86, y1: 589, x2: 115, y2: 589}, style: {stroke: PINK, lineWidth: 2.2}},
	ltext(126, 589, '{la|inner+outer}')
];

var chart = echarts.init(document.getElementById('chart'));
chart.setOption({
	backgroundColor: '#fff',
	animation: false,
	grid: grids,
	xAxis: xAxes,
	yAxis: yAxes,
	series: series,
	graphic: graphics
});
</script>
</body>
</html>
